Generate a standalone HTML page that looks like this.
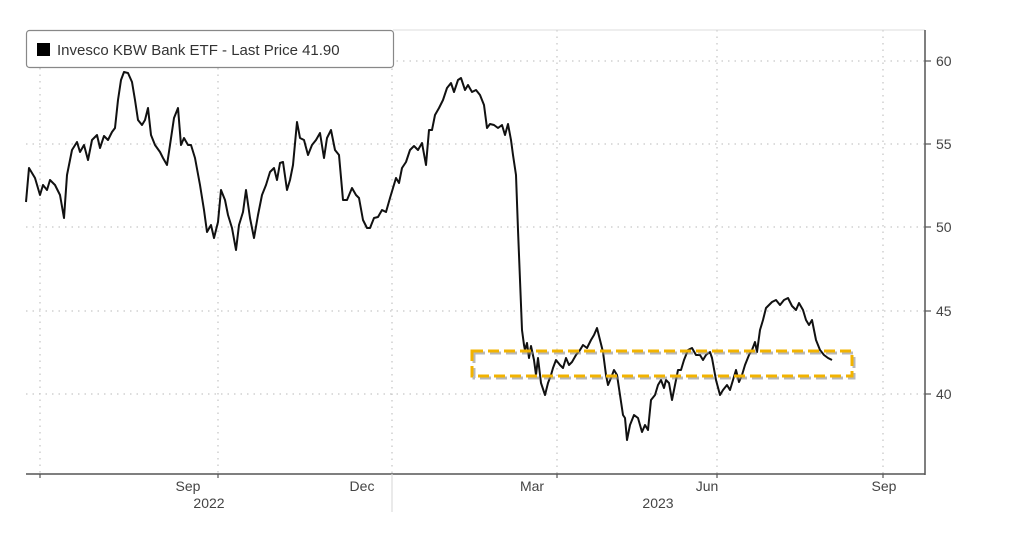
<!DOCTYPE html>
<html><head><style>
body{margin:0;background:#fff;}
svg{display:block;font-family:"Liberation Sans",sans-serif;}
</style></head><body>
<svg width="1010" height="554" viewBox="0 0 1010 554">
<rect width="1010" height="554" fill="#fff"/>
<g stroke="#c8c8c8" stroke-width="1.3" stroke-dasharray="1.5,5">
<line x1="26" y1="61" x2="925" y2="61"/>
<line x1="26" y1="144" x2="925" y2="144"/>
<line x1="26" y1="227" x2="925" y2="227"/>
<line x1="26" y1="311" x2="925" y2="311"/>
<line x1="26" y1="394" x2="925" y2="394"/>
<line x1="40" y1="68" x2="40" y2="474"/>
<line x1="218" y1="68" x2="218" y2="474"/>
<line x1="392" y1="62" x2="392" y2="474"/>
<line x1="557" y1="30" x2="557" y2="474"/>
<line x1="717" y1="30" x2="717" y2="474"/>
<line x1="883" y1="30" x2="883" y2="474"/>
</g>
<line x1="393" y1="30" x2="925" y2="30" stroke="#ddd" stroke-width="1"/>
<g stroke="#555" stroke-width="1.5" fill="none">
<line x1="925" y1="30" x2="925" y2="475"/>
<line x1="26" y1="474" x2="925" y2="474"/>
</g>
<g stroke="#555" stroke-width="1.2">
<line x1="925" y1="61" x2="931" y2="61"/><line x1="925" y1="144" x2="931" y2="144"/><line x1="925" y1="227" x2="931" y2="227"/><line x1="925" y1="311" x2="931" y2="311"/><line x1="925" y1="394" x2="931" y2="394"/>
<line x1="40" y1="474" x2="40" y2="478"/><line x1="218" y1="474" x2="218" y2="478"/><line x1="392" y1="474" x2="392" y2="512" stroke="#ddd"/><line x1="557" y1="474" x2="557" y2="478"/><line x1="717" y1="474" x2="717" y2="478"/><line x1="883" y1="474" x2="883" y2="478"/>
</g>
<g font-size="14" fill="#444">
<text x="936" y="66">60</text><text x="936" y="149">55</text><text x="936" y="232">50</text><text x="936" y="316">45</text><text x="936" y="399">40</text>
<text x="188" y="491" text-anchor="middle">Sep</text>
<text x="362" y="491" text-anchor="middle">Dec</text>
<text x="532" y="491" text-anchor="middle">Mar</text>
<text x="707" y="491" text-anchor="middle">Jun</text>
<text x="884" y="491" text-anchor="middle">Sep</text>
<text x="209" y="508" text-anchor="middle">2022</text>
<text x="658" y="508" text-anchor="middle">2023</text>
</g>
<polyline fill="none" stroke="#111" stroke-width="2" stroke-linejoin="round" points="26,202 29,168 35,178 40,195 43,185 47,190 50,180 55,185 60,195 64,218 67,175 72,150 77,142 80,152 84,145 88,160 92,140 97,135 100,148 104,136 108,140 112,132 115,128 118,100 121,80 124,72 128,73 132,82 135,100 138,120 142,125 145,120 148,108 151,135 155,145 160,152 163,158 167,165 170,145 174,118 178,108 181,145 184,138 188,145 191,145 195,158 200,185 204,210 207,232 211,225 214,238 218,222 221,190 225,200 228,215 232,228 236,250 239,225 243,212 246,190 250,218 254,238 258,215 262,195 266,185 270,172 274,168 277,180 280,163 283,162 287,190 290,180 293,165 297,122 300,138 304,140 308,155 312,145 316,140 320,133 324,158 327,138 331,130 335,150 339,155 343,200 347,200 352,188 356,195 359,198 363,220 367,228 370,228 374,218 378,217 382,210 386,212 390,198 393,188 396,178 399,183 402,168 406,162 410,150 414,146 418,150 422,143 426,165 429,130 432,130 435,115 439,108 443,100 447,88 451,83 454,92 458,80 461,78 465,90 468,85 472,92 476,90 480,95 484,105 487,128 490,124 494,125 498,128 502,125 505,135 508,124 511,140 513,155 516,175 518,230 520,280 522,330 524,345 525,350 527,343 529,358 531,346 534,360 536,375 538,358 541,383 545,395 548,383 551,375 553,368 556,360 560,365 563,368 566,358 569,365 572,362 576,355 580,350 583,345 587,348 591,340 594,335 597,328 600,340 603,352 606,375 608,385 611,378 614,370 617,375 620,395 623,415 625,418 627,440 630,425 634,415 638,418 642,432 645,425 648,430 651,400 655,395 658,385 661,380 664,388 666,380 669,383 672,400 675,385 678,370 681,370 684,360 688,350 692,348 696,355 700,355 703,360 706,355 710,352 712,358 716,380 720,395 723,390 727,385 730,390 733,380 736,370 739,382 742,375 745,365 749,355 752,350 755,342 757,352 760,330 763,320 766,308 769,305 772,302 776,300 780,305 784,300 788,298 792,306 796,310 799,303 803,310 806,320 809,325 812,320 816,340 820,350 824,355 828,358 832,360"/>
<rect x="474" y="353" width="380" height="25" fill="none" stroke="#888" stroke-width="3" stroke-dasharray="11,5" opacity="0.6"/>
<rect x="472" y="351" width="380" height="25" fill="none" stroke="#f2b300" stroke-width="3" stroke-dasharray="11,5"/>
<rect x="26.5" y="30.5" width="367" height="37" rx="3" fill="#fff" stroke="#888" stroke-width="1.2"/>
<rect x="37" y="43" width="13" height="13" fill="#000"/>
<text x="57" y="55" font-size="15" fill="#333">Invesco KBW Bank ETF - Last Price 41.90</text>
</svg>
</body></html>
